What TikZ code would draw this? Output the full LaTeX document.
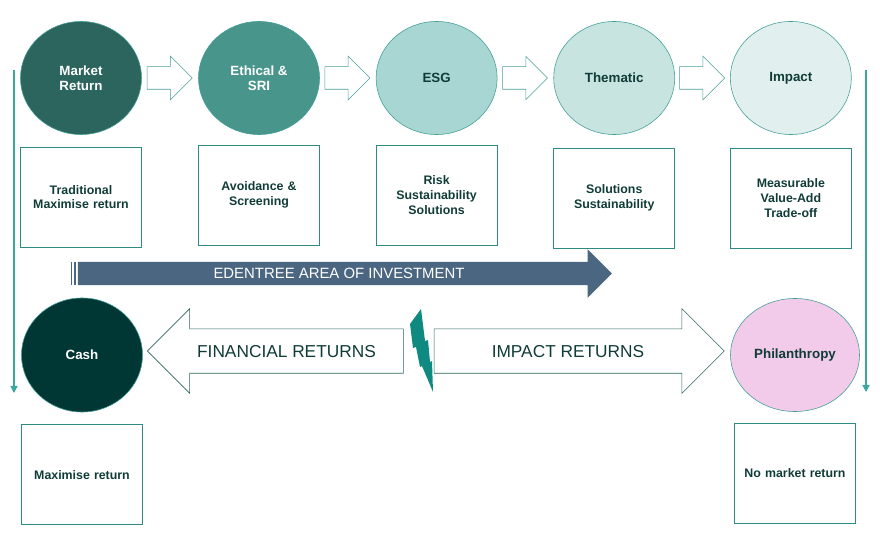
\documentclass[tikz,border=0pt]{standalone}
\usepackage{fontspec}
\setmainfont{Liberation Sans}
\usepackage{tikz}
\usetikzlibrary{positioning, shapes.geometric, shapes.arrows, arrows.meta, calc}
\definecolor{mktgreen}{HTML}{2C655D}
\definecolor{ethgreen}{HTML}{48958C}
\definecolor{esggreen}{HTML}{A8D6D2}
\definecolor{themgreen}{HTML}{C7E4E1}
\definecolor{impgreen}{HTML}{E1F0EE}
\definecolor{cashgreen}{HTML}{003634}
\definecolor{philpink}{HTML}{F1CBE9}
\definecolor{darktext}{HTML}{103C38}
\definecolor{circline}{HTML}{3F9E96}
\definecolor{boxline}{HTML}{2E8A82}
\definecolor{arrline}{HTML}{4A9F98}
\definecolor{bigline}{HTML}{2F6662}
\definecolor{slateblue}{HTML}{4B6680}
\definecolor{sideteal}{HTML}{3AA79D}
\definecolor{boltteal}{HTML}{0E8A80}

\begin{document}
\begin{tikzpicture}[x=0.025cm, y=-0.025cm,
  stage/.style={draw=circline, ellipse, inner sep=0, minimum width=3.025cm, minimum height=2.825cm, align=center, font=\fontsize{9.5}{10.8}\selectfont\bfseries, text=darktext},
  descbox/.style={draw=boxline, inner sep=0, minimum width=3.025cm, minimum height=2.5cm, text width=2.9cm, align=center, font=\fontsize{8.8}{10.6}\selectfont\bfseries, text=darktext},
  steparrow/.style={single arrow, draw=arrline, fill=white, inner xsep=0, inner ysep=0.275cm, single arrow head extend=0.2625cm, minimum height=1.125cm, xshift=-0.15cm},
  returnarrow/.style={single arrow, draw=bigline, fill=white, text=darktext, font=\fontsize{12.3}{14}\selectfont, text height=8.8pt, text depth=0pt, inner ysep=11.2pt, single arrow head extend=0.5cm},
  investarrow/.style={single arrow, fill=slateblue, text=white, font=\fontsize{10.6}{12}\selectfont, text height=7.6pt, text depth=0pt, inner ysep=4.35pt, single arrow head extend=0.3125cm},
  sideline/.style={draw=sideteal, line width=1pt, -{Triangle[width=5pt,length=5pt]}}]
\useasboundingbox (0,0) rectangle (880,550);

% stages of the spectrum
\node[stage, fill=mktgreen, text=white] (mkt) at (81,78) {Market\\Return};
\node[stage, fill=ethgreen, text=white, right=1.41cm of mkt] (eth) {Ethical \&\\SRI};
\node[stage, fill=esggreen, right=1.4cm of eth] (esg) {ESG};
\node[stage, fill=themgreen, right=1.4cm of esg] (them) {Thematic};
\node[stage, fill=impgreen, right=1.375cm of them] (imp) {Impact};

\node[steparrow] (step1) at ($(mkt.east)!0.5!(eth.west)$) {};
\node[steparrow] (step2) at ($(eth.east)!0.5!(esg.west)$) {};
\node[steparrow] (step3) at ($(esg.east)!0.5!(them.west)$) {};
\node[steparrow] (step4) at ($(them.east)!0.5!(imp.west)$) {};

\node[descbox, below=0.3cm of mkt] (mktbox) {Traditional\\Maximise return};
\node[descbox, below=0.25cm of eth] (ethbox) {Avoidance \&\\Screening};
\node[descbox, below=0.25cm of esg] (esgbox) {Risk\\Sustainability\\Solutions};
\node[descbox, below=0.325cm of them] (thembox) {Solutions\\Sustainability};
\node[descbox, below=0.325cm of imp] (impbox) {Measurable\\Value-Add\\Trade-off};

% area of investment
\node[investarrow, minimum height=13.35cm] (invest) at (339,273.5) {EDENTREE AREA OF INVESTMENT};
\fill[slateblue] ($(invest.tail)+(-7,-11.5)$) rectangle ($(invest.tail)+(-5.5,11.5)$);
\fill[slateblue] ($(invest.tail)+(-4,-11.5)$) rectangle ($(invest.tail)+(-1.6,11.5)$);

% both ends
\node[stage, fill=cashgreen, text=white, minimum height=2.85cm] (cash) at (82,355) {Cash};
\node[stage, fill=philpink, minimum width=3.225cm] (phil) at (795,355) {Philanthropy};
\node[descbox, below=0.3cm of cash] (cashbox) {Maximise return};
\node[descbox, below=0.275cm of phil] (philbox) {No market return};

\node[returnarrow, shape border rotate=180, minimum height=6.4cm] (finret) at (286.5,351) {FINANCIAL RETURNS};
\node[returnarrow, minimum height=7.25cm] (impret) at (568,351) {IMPACT RETURNS};

\fill[boltteal] (421,309) -- (425,341) -- (428,340) -- (430,362) -- (432,361) -- (433,392)
  -- (422,366) -- (420,367) -- (416,347) -- (413,348) -- (410,324) -- cycle;

\coordinate (ltop) at (14,70);
\coordinate (lbot) at (14,393);
\coordinate (rtop) at (866,70);
\coordinate (rbot) at (866,392);
\draw[sideline] (ltop) -- (lbot);
\draw[sideline] (rtop) -- (rbot);
\end{tikzpicture}
\end{document}
